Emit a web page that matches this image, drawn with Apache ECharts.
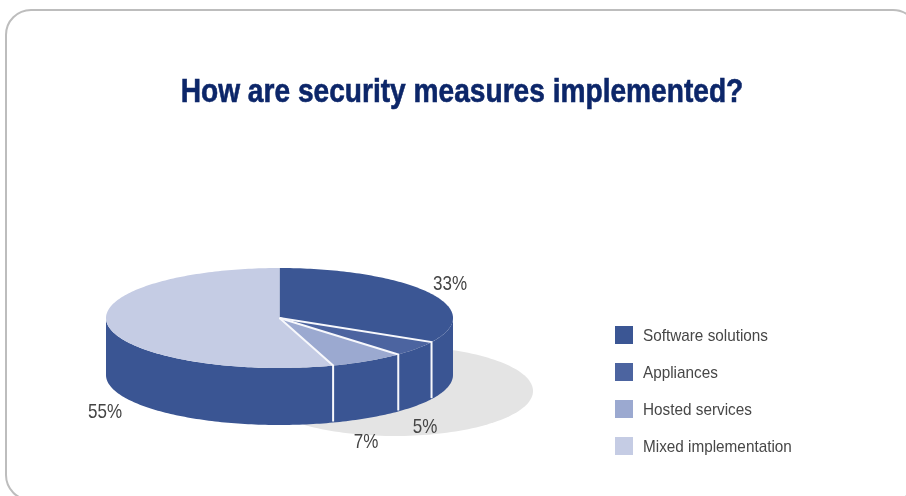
<!DOCTYPE html>
<html>
<head>
<meta charset="utf-8">
<style>html,body{margin:0;padding:0;background:#fff}#c{width:906px;height:496px}</style>
<script src="https://cdn.jsdelivr.net/npm/echarts@6/dist/echarts.min.js"></script>
</head>
<body>
<div id="c"></div>
<script>
// Survey shares, clockwise from twelve o'clock
const categories = ['Software solutions', 'Appliances', 'Hosted services', 'Mixed implementation'];
const shares = [33, 5, 7, 55];
const heading = 'How are security measures implemented?';
const topColors = ['#3b5694', '#4c64a0', '#9ba9d0', '#c5cce4'];
const wallColor = '#3a5593';
const labelAnchors = [[450, 284], [425, 427], [366, 442], [105, 412]];

// Disc geometry: tilted ellipse plus wall depth
const disc = { cx: 279.5, cy: 318, rx: 173.5, ry: 50, depth: 57 };
const cast = { cx: 395, cy: 391, rx: 138, ry: 45 };
const key = { x: 615, y: 326, step: 37, size: 18, textX: 643 };
const sans = '"Liberation Sans", sans-serif';

const rimPoint = (a, drop) => [
  disc.cx + disc.rx * Math.sin(a),
  disc.cy - disc.ry * Math.cos(a) + (drop || 0)
];
const arcPoints = (a0, a1, drop) => {
  const n = Math.max(2, Math.ceil(Math.abs(a1 - a0) / 0.02));
  const pts = [];
  for (let i = 0; i <= n; i++) pts.push(rimPoint(a0 + (a1 - a0) * i / n, drop));
  return pts;
};
const total = shares.reduce((s, v) => s + v, 0);
const boundary = i => shares.slice(0, i).reduce((s, v) => s + v, 0) / total * 2 * Math.PI;

function sliceRenderer(i) {
  return function (params, api) {
    const a0 = boundary(i);
    const a1 = a0 + api.value(0) / total * 2 * Math.PI;
    const children = [];
    // The wall only shows along the near half of the rim
    const w0 = Math.max(a0, Math.PI / 2), w1 = Math.min(a1, 1.5 * Math.PI);
    if (w1 > w0) {
      children.push({
        type: 'polygon',
        shape: { points: arcPoints(w0, w1, 0).concat(arcPoints(w1, w0, disc.depth)) },
        style: { fill: wallColor }
      });
    }
    children.push({
      type: 'polygon',
      shape: { points: [[disc.cx, disc.cy]].concat(arcPoints(a0, a1, 0)) },
      style: { fill: topColors[i] }
    });
    return { type: 'group', children };
  };
}

function renderCast() {
  const pts = [];
  for (let k = 0; k < 180; k++) {
    const a = k / 180 * 2 * Math.PI;
    pts.push([cast.cx + cast.rx * Math.cos(a), cast.cy + cast.ry * Math.sin(a)]);
  }
  return { type: 'polygon', shape: { points: pts }, style: { fill: '#e4e4e4' } };
}

// White seams between slices, across the top and down the wall
function renderSeams() {
  const children = [];
  for (let i = 1; i < shares.length; i++) {
    const a = boundary(i);
    const rim = rimPoint(a, 0), foot = rimPoint(a, disc.depth - 1);
    children.push({
      type: 'polyline',
      shape: { points: [[disc.cx, disc.cy], rim, foot] },
      style: { stroke: '#f7f8fc', lineWidth: 2, fill: null }
    });
  }
  return { type: 'group', children };
}

// The typeface is set narrow by squeezing it horizontally
function renderLabels() {
  return {
    type: 'group',
    children: shares.map((v, i) => ({
      type: 'text',
      x: labelAnchors[i][0], y: labelAnchors[i][1],
      scaleX: 0.81,
      style: {
        text: v + '%', x: 0, y: 0,
        align: 'center', verticalAlign: 'middle',
        fill: '#444444', font: '21px ' + sans
      }
    }))
  };
}

const helper = (name, renderItem) => ({
  type: 'custom', name, coordinateSystem: 'none', silent: true,
  data: [[0]], renderItem
});

const keyRows = categories.flatMap((name, i) => [
  {
    type: 'rect',
    shape: { x: key.x, y: key.y + i * key.step, width: key.size, height: key.size },
    style: { fill: topColors[i] }
  },
  {
    type: 'text',
    x: key.textX, y: key.y + i * key.step + key.size / 2 + 1,
    scaleX: 0.9,
    style: {
      text: name, x: 0, y: 0, align: 'left', verticalAlign: 'middle',
      fill: '#474747', font: '17px ' + sans
    }
  }
]);

const chart = echarts.init(document.getElementById('c'), null, { renderer: 'canvas' });
chart.setOption({
  animation: false,
  backgroundColor: '#ffffff',
  graphic: [
    {
      type: 'rect', z: 0,
      shape: { x: 6, y: 10, width: 912, height: 490, r: 25 },
      style: { fill: '#ffffff', stroke: '#bdbdbd', lineWidth: 2 }
    },
    {
      type: 'text', z: 1,
      x: 462, y: 93, scaleX: 0.827,
      style: {
        text: heading, x: 0, y: 0, align: 'center', verticalAlign: 'middle',
        fill: '#0c2669', stroke: '#0c2669', lineWidth: 0.6,
        font: 'bold 34px ' + sans
      }
    }
  ].concat(keyRows.map(el => Object.assign({ z: 1 }, el))),
  series: [helper('cast', renderCast)]
    .concat(categories.map((name, i) => ({
      type: 'custom', name, coordinateSystem: 'none', silent: true,
      itemStyle: { color: topColors[i] },
      data: [[shares[i]]],
      renderItem: sliceRenderer(i)
    })))
    .concat([helper('seams', renderSeams), helper('labels', renderLabels)])
});
</script>
</body>
</html>
